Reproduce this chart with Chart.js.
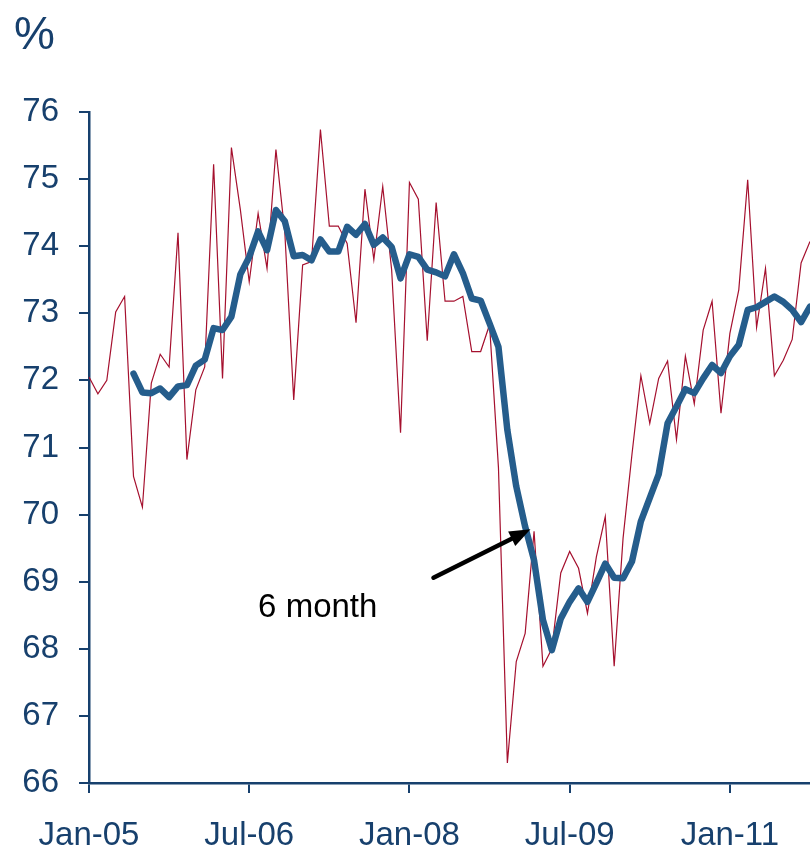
<!DOCTYPE html>
<html>
<head>
<meta charset="utf-8">
<script src="https://cdn.jsdelivr.net/npm/chart.js@4"></script>
<style>
  html, body { margin: 0; padding: 0; background: #fff; }
  #wrap { width: 810px; height: 848px; }
</style>
</head>
<body>
<div id="wrap"><canvas id="myChart" width="810" height="848"></canvas></div>
<script>
// x-axis tick labels, every 18 months from Jan-05
const tickLabels = ['Jan-05', 'Jul-06', 'Jan-08', 'Jul-09', 'Jan-11'];
const monthNames = ['Jan','Feb','Mar','Apr','May','Jun','Jul','Aug','Sep','Oct','Nov','Dec'];

// monthly rate, Jan-05 .. Oct-11 (%)
const monthly = [
  72.05, 71.80, 72.00, 73.02, 73.25, 70.57, 70.11, 71.96, 72.39, 72.20, 74.20, 70.82,
  71.86, 72.20, 75.22, 72.03, 75.47, 74.55, 73.47, 74.49, 73.67, 75.44, 74.20, 71.71,
  73.72, 73.77, 75.74, 74.30, 74.30, 74.04, 72.86, 74.85, 73.80, 74.89, 73.65, 71.22,
  74.95, 74.70, 72.59, 74.65, 73.18, 73.18, 73.25, 72.43, 72.43, 72.83, 70.70, 66.30,
  67.81, 68.23, 69.75, 67.74, 68.00, 69.13, 69.45, 69.20, 68.53, 69.37, 69.97, 67.74,
  69.65, 70.90, 72.07, 71.36, 72.03, 72.29, 71.12, 72.36, 71.65, 72.75, 73.18, 71.51,
  72.70, 73.35, 74.99, 72.79, 73.67, 72.07, 72.30, 72.61, 73.75, 74.07
];

// 6 month average, starts Jun-05
const sixMonth = [
  null, null, null, null, null, 72.10, 71.82, 71.81, 71.88, 71.75, 71.91, 71.93,
  72.22, 72.31, 72.78, 72.75, 72.95, 73.58, 73.84, 74.22, 73.94, 74.54, 74.37, 73.85,
  73.87, 73.79, 74.10, 73.92, 73.92, 74.29, 74.17, 74.33, 74.02, 74.13, 73.99, 73.52,
  73.88, 73.84, 73.65, 73.61, 73.55, 73.88, 73.60, 73.22, 73.19, 72.85, 72.50, 71.26,
  70.42, 69.82, 69.32, 68.43, 67.98, 68.45, 68.70, 68.90, 68.70, 68.98, 69.27, 69.06,
  69.05, 69.30, 69.90, 70.25, 70.60, 71.36, 71.61, 71.87, 71.81, 72.03, 72.23, 72.11,
  72.36, 72.53, 73.05, 73.09, 73.17, 73.25, 73.17, 73.05, 72.87, 73.10
];

const months = [];
for (let i = 0; i < monthly.length; i++) {
  const yr = 5 + Math.floor(i / 12);
  months.push(monthNames[i % 12] + '-' + (yr < 10 ? '0' : '') + yr);
}

const axisColor = '#17406D';
const font = "'Liberation Sans', Arial, sans-serif";

// "%" unit label, annotation arrow and text
const extras = {
  id: 'extras',
  afterDatasetsDraw(chart) {
    const ctx = chart.ctx;
    const xs = chart.scales.x, ys = chart.scales.y;
    ctx.save();
    ctx.fillStyle = axisColor;
    ctx.font = '46px ' + font;
    ctx.textBaseline = 'alphabetic';
    ctx.textAlign = 'left';
    ctx.fillText('%', 14, 49);

    // arrow from label towards the 6 month line
    const x0 = xs.getPixelForValue(38.7), y0 = ys.getPixelForValue(69.06);
    const x1 = xs.getPixelForValue(49.6), y1 = ys.getPixelForValue(69.78);
    const dx = x1 - x0, dy = y1 - y0, len = Math.hypot(dx, dy);
    const ux = dx / len, uy = dy / len;
    const head = 21, half = 8;
    ctx.strokeStyle = '#000';
    ctx.lineWidth = 4.5;
    ctx.lineCap = 'round';
    ctx.beginPath();
    ctx.moveTo(x0, y0);
    ctx.lineTo(x1 - ux * head, y1 - uy * head);
    ctx.stroke();
    ctx.fillStyle = '#000';
    ctx.beginPath();
    ctx.moveTo(x1, y1);
    ctx.lineTo(x1 - ux * head - uy * half, y1 - uy * head + ux * half);
    ctx.lineTo(x1 - ux * head + uy * half, y1 - uy * head - ux * half);
    ctx.closePath();
    ctx.fill();

    ctx.font = '33px ' + font;
    ctx.fillText('6 month', xs.getPixelForValue(19.0), ys.getPixelForValue(68.47));
    ctx.restore();
  }
};

new Chart(document.getElementById('myChart'), {
  type: 'line',
  data: {
    labels: months,
    datasets: [{
      label: 'Monthly',
      data: monthly,
      borderColor: '#A5102E',
      borderWidth: 1.2,
      pointRadius: 0,
      tension: 0,
      order: 2
    }, {
      label: '6 month',
      data: sixMonth,
      borderColor: '#255D8C',
      borderWidth: 6.5,
      borderJoinStyle: 'round',
      borderCapStyle: 'round',
      pointRadius: 0,
      tension: 0,
      order: 1
    }]
  },
  options: {
    responsive: false,
    devicePixelRatio: 1,
    animation: false,
    layout: { padding: { top: 112, right: 0, bottom: 0, left: 0 } },
    plugins: {
      legend: { display: false },
      tooltip: { enabled: false }
    },
    scales: {
      x: {
        type: 'category',
        offset: false,
        afterFit(scale) {
          scale.height = 65;
          scale.paddingLeft = 0;
          scale.paddingRight = 0;
        },
        grid: {
          display: true,
          drawOnChartArea: false,
          drawTicks: true,
          tickLength: 10,
          lineWidth: 2,
          color: (c) => (c.index % 18 === 0 ? axisColor : 'rgba(0,0,0,0)')
        },
        border: { display: true, color: axisColor, width: 2.5 },
        ticks: {
          autoSkip: false,
          maxRotation: 0,
          minRotation: 0,
          padding: 23,
          color: axisColor,
          font: { family: font, size: 33 },
          callback: (v, i) => (i % 18 === 0 ? tickLabels[i / 18] : '')
        }
      },
      y: {
        min: 66,
        max: 76,
        afterFit(scale) { scale.width = 89; },
        grid: {
          display: true,
          drawOnChartArea: false,
          drawTicks: true,
          tickLength: 10,
          lineWidth: 2,
          color: axisColor
        },
        border: { display: true, color: axisColor, width: 2.5 },
        ticks: {
          stepSize: 1,
          padding: 20,
          color: axisColor,
          font: { family: font, size: 33 }
        }
      }
    }
  },
  plugins: [extras]
});
</script>
</body>
</html>
